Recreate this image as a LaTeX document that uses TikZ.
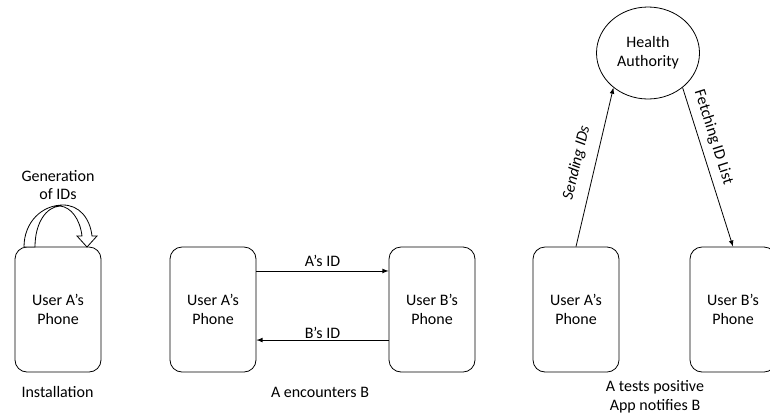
\documentclass[tikz,border=0pt]{standalone}
\usepackage{fontspec}
\setmainfont{Carlito}
\usetikzlibrary{shapes.geometric}

\begin{document}
\begin{tikzpicture}[x=0.75pt, y=-0.75pt, >=latex, line width=0.6pt,
    font=\fontsize{12pt}{14pt}\selectfont,
    phone/.style={draw, rounded corners=9pt, minimum width=64.5pt,
      minimum height=93.75pt, align=center, inner sep=0pt},
    auth/.style={draw, ellipse, minimum width=77.25pt, minimum height=69pt,
      align=center, inner sep=0pt},
    caption/.style={align=center}]

  \clip (0,0) rectangle (770,415);

  % installation
  \node[phone] (instA) at (58,309.5) {User A’s\\Phone};
  \node (instCap) at (57.5,392) {Installation};
  \node[caption] (genLbl) at (58,185) {Generation\\of IDs};
  \draw[fill=white] (24,247) .. controls (24,222) and (42,205) .. (63,205)
    .. controls (79,205) and (90,218) .. (92,236) -- (97,236) -- (87,247)
    -- (77,236) -- (82,236) .. controls (80,219) and (71,207) .. (60,206)
    .. controls (46,207) and (35,223) .. (35,247) -- cycle;

  % A encounters B
  \node[phone] (encA) at (213,309.5) {User A’s\\Phone};
  \node[phone] (encB) at (432,309.5) {User B’s\\Phone};
  \node (encCap) at (320,392) {A encounters B};
  \draw[->] ([yshift=28.9pt]encA.east) -- ([yshift=28.9pt]encB.west)
    node[midway, above] {A’s ID};
  \draw[->] ([yshift=-22.9pt]encB.west) -- ([yshift=-22.9pt]encA.east)
    node[midway, above, inner sep=1pt] {B’s ID};

  % A tests positive
  \node[auth] (ha) at (648,53) {Health\\Authority};
  \node[phone] (posA) at (576,309.5) {User A’s\\Phone};
  \node[phone] (posB) at (733,309.5) {User B’s\\Phone};
  \node[caption] (posCap) at (655,397) {A tests positive\\App notifies B};
  \draw[->] (posA.north) -- (ha.225)
    node[midway, sloped, above=5pt] {\itshape Sending IDs};
  \draw[->] (ha.-45) -- (posB.north)
    node[pos=0.34, sloped, above=2pt] {Fetching ID List};

\end{tikzpicture}
\end{document}
